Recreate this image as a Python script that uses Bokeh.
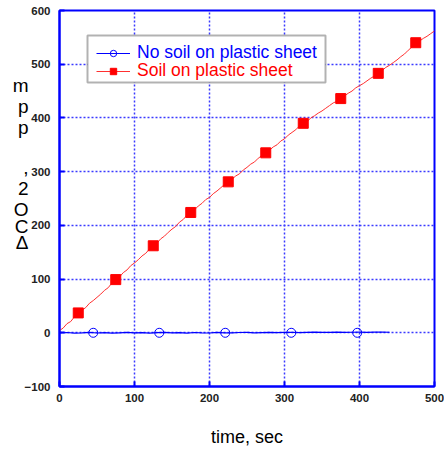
from bokeh.plotting import figure
from bokeh.models import Legend, LegendItem, BoxAnnotation, FixedTicker, Range1d, LinearAxis
from bokeh.embed import file_html
from bokeh.resources import INLINE

# ---- data ----
time_soil = [0, 5, 10, 15, 20, 25, 30, 35, 40, 45, 50, 55, 60, 65, 70, 75, 80, 85, 90, 95,
             100, 105, 110, 115, 120, 125, 130, 135, 140, 145, 150, 155, 160, 165, 170, 175,
             180, 185, 190, 195, 200, 205, 210, 215, 220, 225, 230, 235, 240, 245, 250, 255,
             260, 265, 270, 275, 280, 285, 290, 295, 300, 305, 310, 315, 320, 325, 330, 335,
             340, 345, 350, 355, 360, 365, 370, 375, 380, 385, 390, 395, 400, 405, 410, 415,
             420, 425, 430, 435, 440, 445, 450, 455, 460, 465, 470, 475, 480, 485, 490, 495, 500]
co2_soil = [4, 9, 17, 21, 30, 36, 42, 47, 55, 60, 66, 72, 79, 84, 93, 99, 104, 112, 117, 125,
            130, 136, 143, 148, 156, 162, 167, 175, 180, 187, 193, 198, 206, 211, 219, 224,
            229, 236, 241, 248, 252, 259, 264, 270, 276, 281, 286, 292, 296, 303, 308, 314,
            318, 325, 330, 335, 340, 346, 350, 357, 361, 368, 373, 378, 385, 390, 393, 400,
            404, 409, 413, 418, 423, 428, 431, 436, 441, 446, 450, 456, 460, 464, 469, 474,
            478, 483, 488, 494, 498, 503, 508, 514, 519, 526, 532, 540, 543, 548, 552, 557, 562]
marker_time_soil = [25, 75, 125, 175, 225, 275, 325, 375, 425, 475]
marker_co2_soil = [37, 99, 162, 224, 281, 335, 390, 436, 483, 540]

time_nosoil = [0, 10, 20, 30, 40, 50, 60, 70, 80, 90, 100, 110, 120, 130, 140, 150, 160, 170,
               180, 190, 200, 210, 220, 230, 240, 250, 260, 270, 280, 290, 300, 310, 320, 330,
               340, 350, 360, 370, 380, 390, 400, 410, 420, 430, 440]
co2_nosoil = [0, 0.5, -0.5, 0, 0.8, -0.4, 0.3, -0.8, 0, 0.6, -0.3, 0.4, -0.6, 0.2, 0.7, -0.2,
              0.3, -0.5, 0.5, 0, -0.4, 0.6, 0, -0.3, 0.5, 0.8, -0.2, 0.4, 0.9, 0.2, 0.6, 1.0,
              0.4, 0.8, 1.1, 0.6, 0.9, 1.2, 0.7, 1.0, 1.3, 0.9, 1.2, 1.4, 1.0]
marker_time_nosoil = [45, 133, 221, 309, 397]
marker_co2_nosoil = [0, 0, 0, 0, 0]

x_ticks = [0, 100, 200, 300, 400, 500]
y_ticks = [-100, 0, 100, 200, 300, 400, 500, 600]

# stacked y-axis title "ΔCO2, ppm" (characters shown upright, top to bottom)
y_title_chars = ["m", "p", "p", ",", "2", "O", "C", "\u0394"]
y_title_at = [460, 421, 382, 308, 269, 229.5, 198, 168]   # heights on the y scale

BLUE = "#0000ff"
RED = "#ff0000"
GRID = "#3a3aff"
FONT = "Liberation Sans"

p = figure(width=444, height=455, output_backend="svg", toolbar_location=None,
           x_range=Range1d(0, 500), y_range=Range1d(-100, 600),
           min_border_left=59, min_border_right=10, min_border_top=10, min_border_bottom=69)
p.background_fill_color = "white"
p.border_fill_color = "white"
p.outline_line_color = BLUE
p.outline_line_width = 2

for ax in (p.xaxis[0], p.yaxis[0]):
    ax.axis_line_color = BLUE
    ax.axis_line_width = 2
    ax.major_tick_line_color = BLUE
    ax.major_tick_line_width = 2
    ax.major_tick_in = 5
    ax.major_tick_out = 0
    ax.minor_tick_line_color = None
    ax.major_label_text_font = FONT
    ax.major_label_text_font_size = "11.5px"
    ax.major_label_text_color = "#222222"
    ax.major_label_text_font_style = "bold"

p.xaxis.ticker = FixedTicker(ticks=x_ticks)
p.yaxis.ticker = FixedTicker(ticks=y_ticks)
p.yaxis.major_label_overrides = {-100: "\u2212100"}
p.xaxis.major_label_standoff = 7
p.yaxis.major_label_standoff = 9
p.xaxis.axis_label = "time, sec"
p.xaxis.axis_label_text_font = FONT
p.xaxis.axis_label_text_font_size = "18px"
p.xaxis.axis_label_text_font_style = "normal"
p.xaxis.axis_label_text_color = "black"
p.xaxis.axis_label_standoff = 22

# y title as an extra, line-less axis whose labels are the stacked characters
title_axis = LinearAxis(ticker=FixedTicker(ticks=y_title_at),
                        major_label_overrides=dict(zip(y_title_at, y_title_chars)),
                        axis_line_color=None, major_tick_line_color=None,
                        minor_tick_line_color=None, major_label_standoff=-13,
                        major_label_text_font=FONT, major_label_text_font_size="19px",
                        major_label_text_color="black")
p.add_layout(title_axis, "left")

for g in (p.xgrid[0], p.ygrid[0]):
    g.grid_line_color = GRID
    g.grid_line_dash = "2 2"
    g.grid_line_width = 1.5
p.xgrid.ticker = FixedTicker(ticks=x_ticks)
p.ygrid.ticker = FixedTicker(ticks=y_ticks)

# series
l_ns = p.line(time_nosoil, co2_nosoil, line_color=BLUE, line_width=1.2)
s_ns = p.scatter(marker_time_nosoil, marker_co2_nosoil, marker="circle", size=9,
                 fill_color=None, line_color=BLUE, line_width=1)
l_s = p.line(time_soil, co2_soil, line_color="#ff3030", line_width=1)
s_s = p.scatter(marker_time_soil, marker_co2_soil, marker="square", size=10,
                fill_color=RED, line_color=RED)

# legend (two single-item legends, each in its own colour, inside a black box)
box = BoxAnnotation(left=87 - 59, right=325 - 59, top=386 - 35, bottom=386 - 82,
                    left_units="screen", right_units="screen", top_units="screen",
                    bottom_units="screen", fill_color="white", fill_alpha=1,
                    line_color="black", line_width=2)
p.add_layout(box)

def make_legend(label, rends, color, vy):
    return Legend(items=[LegendItem(label=label, renderers=rends)], location=(37, vy),
                  border_line_alpha=0, background_fill_alpha=0, padding=0, margin=0,
                  glyph_width=34, glyph_height=16, label_height=16, label_standoff=7,
                  label_text_font=FONT, label_text_font_size="17.5px",
                  label_text_color=color)

p.add_layout(make_legend("No soil on plastic sheet", [l_ns, s_ns], BLUE, 323))
p.add_layout(make_legend("Soil on plastic sheet", [l_s, s_s], RED, 305))

open("out.html", "w").write(file_html(p, INLINE))
